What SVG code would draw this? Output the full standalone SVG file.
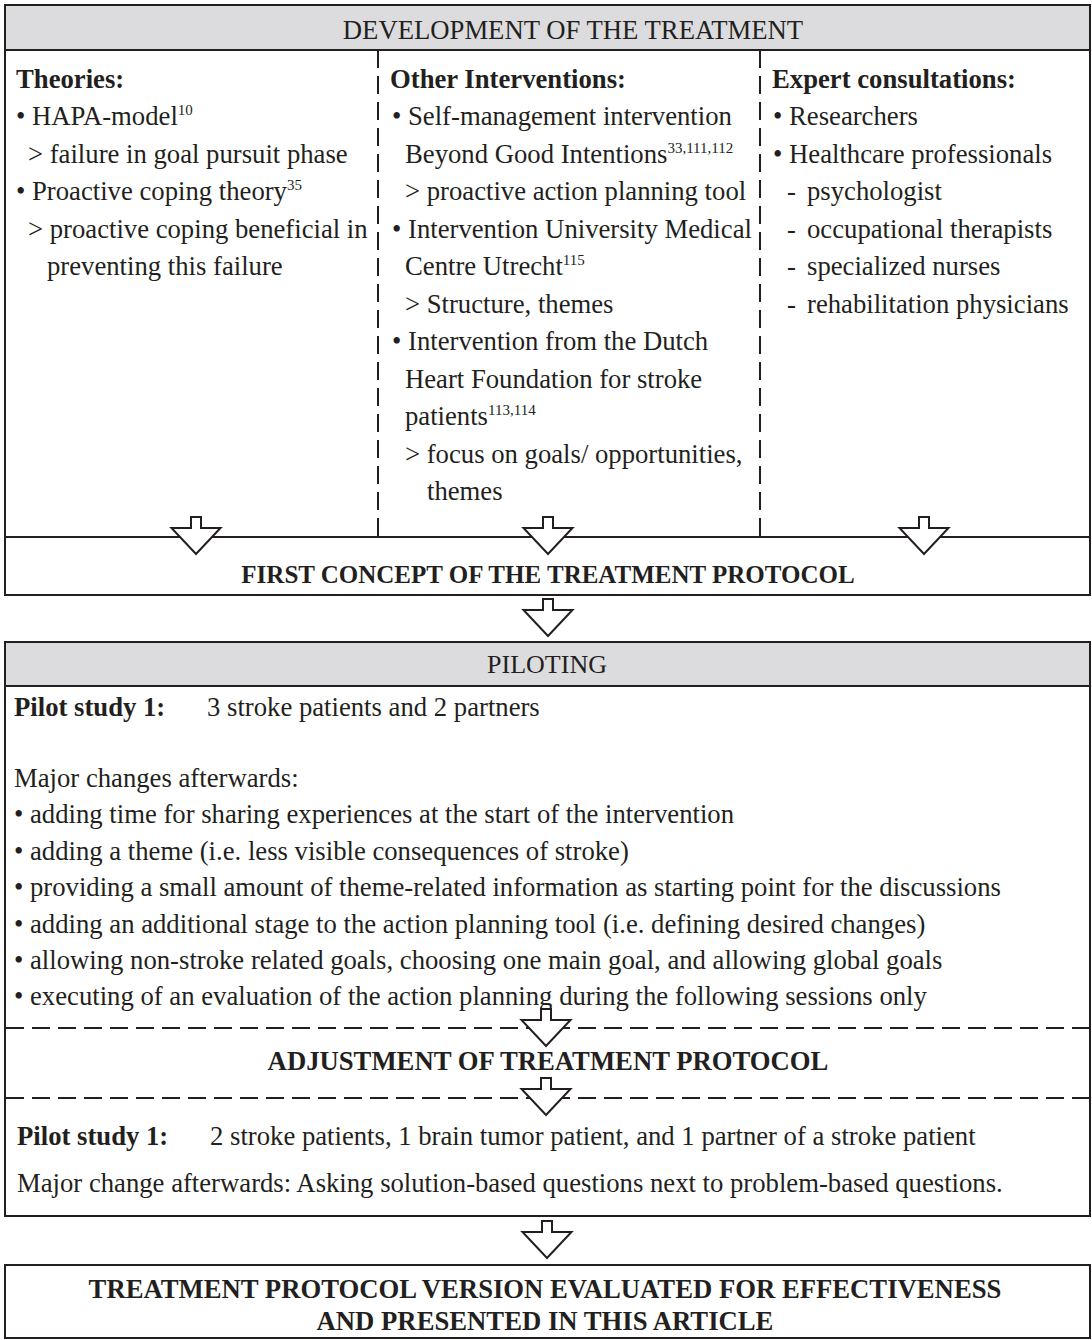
<svg xmlns="http://www.w3.org/2000/svg" width="1092" height="1340" viewBox="0 0 1092 1340">
<style>
  .box { fill: #ffffff; stroke: #231f20; stroke-width: 2; }
  .hdr { fill: #dcdcde; stroke: #231f20; stroke-width: 2; }
  .dash { stroke: #231f20; stroke-width: 2; stroke-dasharray: 18 8; fill: none; }
  .arrow { fill: #ffffff; stroke: #231f20; stroke-width: 2; stroke-linejoin: miter; }
  text { font-family: "Liberation Serif", "Times New Roman", serif; fill: #231f20; font-size: 26.7px; }
  .b { font-weight: bold; }
  .c { text-anchor: middle; }
  .sup { font-size: 15px; }
</style>
<defs>
  <path id="arr" class="arrow" d="M-5,0 H5 V11 H24.5 L0,37 L-24.5,11 H-5 Z"/>
</defs>
<rect width="1092" height="1340" fill="#ffffff"/>

<g id="development">
  <rect class="box" x="5" y="5" width="1085" height="532"/>
  <rect class="hdr" x="5" y="5" width="1085" height="45"/>
  <text class="c" x="573" y="39">DEVELOPMENT OF THE TREATMENT</text>
  <line class="dash" x1="378" y1="50" x2="378" y2="537"/>
  <line class="dash" x1="760" y1="50" x2="760" y2="537"/>
  <g id="theories">
    <text class="b" x="16" y="88">Theories:</text>
    <text x="16" y="125">• HAPA-model<tspan class="sup" dy="-10">10</tspan></text>
    <text x="28" y="163">&gt; failure in goal pursuit phase</text>
    <text x="16" y="200">• Proactive coping theory<tspan class="sup" dy="-10">35</tspan></text>
    <text x="28" y="238">&gt; proactive coping beneficial in</text>
    <text x="47" y="275">preventing this failure</text>
  </g>
  <g id="other-interventions">
    <text class="b" x="390" y="88">Other Interventions:</text>
    <text x="392" y="125">• Self-management intervention</text>
    <text x="405" y="163">Beyond Good Intentions<tspan class="sup" dy="-10">33,111,112</tspan></text>
    <text x="405" y="200">&gt; proactive action planning tool</text>
    <text x="392" y="238">• Intervention University Medical</text>
    <text x="405" y="275">Centre Utrecht<tspan class="sup" dy="-10">115</tspan></text>
    <text x="405" y="313">&gt; Structure, themes</text>
    <text x="392" y="350">• Intervention from the Dutch</text>
    <text x="405" y="388">Heart Foundation for stroke</text>
    <text x="405" y="425">patients<tspan class="sup" dy="-10">113,114</tspan></text>
    <text x="405" y="463">&gt; focus on goals/ opportunities,</text>
    <text x="427" y="500">themes</text>
  </g>
  <g id="expert-consultations">
    <text class="b" x="772" y="88">Expert consultations:</text>
    <text x="773" y="125">• Researchers</text>
    <text x="773" y="163">• Healthcare professionals</text>
    <text x="787" y="200">-<tspan x="807">psychologist</tspan></text>
    <text x="787" y="238">-<tspan x="807">occupational therapists</tspan></text>
    <text x="787" y="275">-<tspan x="807">specialized nurses</tspan></text>
    <text x="787" y="313">-<tspan x="807">rehabilitation physicians</tspan></text>
  </g>
</g>

<g id="first-concept">
  <rect class="box" x="5" y="537" width="1085" height="58"/>
  <text class="b c" x="548" y="583" style="font-size:25px">FIRST CONCEPT OF THE TREATMENT PROTOCOL</text>
</g>

<g id="piloting">
  <rect class="box" x="5" y="642" width="1085" height="574"/>
  <rect class="hdr" x="5" y="642" width="1085" height="44"/>
  <text class="c" x="547" y="673" style="font-size:26px">PILOTING</text>
  <g id="pilot-1">
    <text class="b" x="14" y="716">Pilot study 1:</text>
    <text x="207" y="716">3 stroke patients and 2 partners</text>
    <text x="14" y="787">Major changes afterwards:</text>
    <text x="14" y="823">• adding time for sharing experiences at the start of the intervention</text>
    <text x="14" y="860">• adding a theme (i.e. less visible consequences of stroke)</text>
    <text x="14" y="896">• providing a small amount of theme-related information as starting point for the discussions</text>
    <text x="14" y="933">• adding an additional stage to the action planning tool (i.e. defining desired changes)</text>
    <text x="14" y="969">• allowing non-stroke related goals, choosing one main goal, and allowing global goals</text>
    <text x="14" y="1005">• executing of an evaluation of the action planning during the following sessions only</text>
  </g>
  <line class="dash" x1="6" y1="1028" x2="1089" y2="1028"/>
  <g id="adjustment">
    <text class="b c" x="548" y="1070">ADJUSTMENT OF TREATMENT PROTOCOL</text>
  </g>
  <line class="dash" x1="6" y1="1098" x2="1089" y2="1098"/>
  <g id="pilot-2">
    <text class="b" x="17" y="1145">Pilot study 1:</text>
    <text x="210" y="1145">2 stroke patients, 1 brain tumor patient, and 1 partner of a stroke patient</text>
    <text x="17" y="1192">Major change afterwards: Asking solution-based questions next to problem-based questions.</text>
  </g>
</g>

<g id="final-protocol">
  <rect class="box" x="5" y="1265" width="1085" height="73"/>
  <text class="b c" x="545" y="1298">TREATMENT PROTOCOL VERSION EVALUATED FOR EFFECTIVENESS</text>
  <text class="b c" x="545" y="1330">AND PRESENTED IN THIS ARTICLE</text>
</g>

<g id="connectors">
  <use href="#arr" x="196" y="517"/>
  <use href="#arr" x="548" y="517"/>
  <use href="#arr" x="924" y="517"/>
  <use href="#arr" x="548" y="599"/>
  <use href="#arr" x="546" y="1009"/>
  <use href="#arr" x="546" y="1078"/>
  <use href="#arr" x="547" y="1221"/>
</g>
</svg>
